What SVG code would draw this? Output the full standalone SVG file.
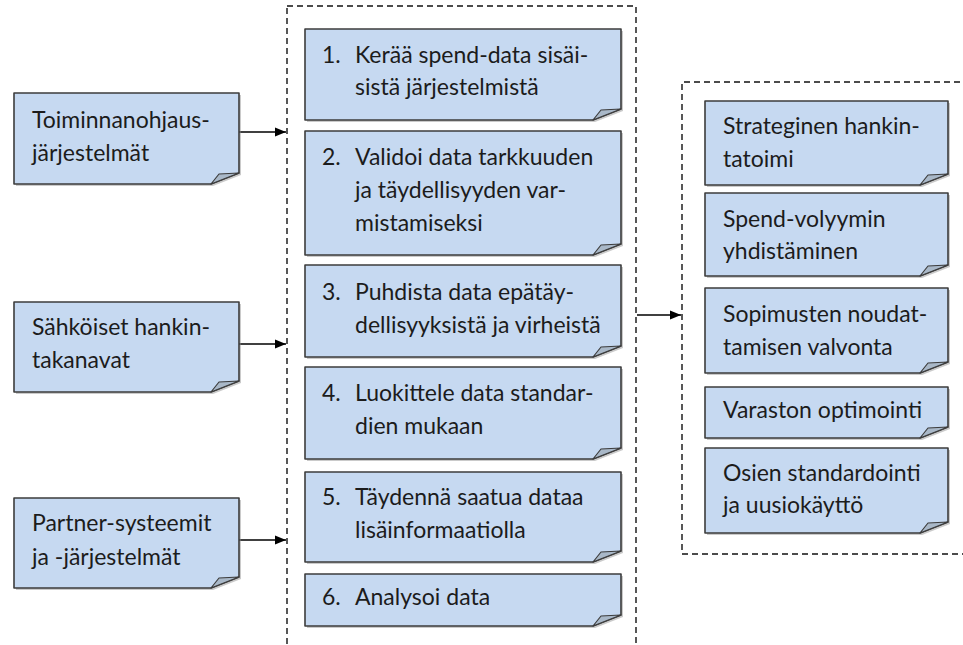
<svg xmlns="http://www.w3.org/2000/svg" xmlns:xlink="http://www.w3.org/1999/xlink" width="963" height="645" viewBox="0 0 963 645">
<style>
.t{font-family:Lato,"Liberation Sans",sans-serif;font-size:23px;fill:#1c1c1c}
.box{fill:#c6d9f1;stroke:#3c3c3c;stroke-width:1.6;stroke-linejoin:round}
.sh{fill:#8a8a8a;opacity:.45}
.flap{fill:#a9b8c8;stroke:#3c3c3c;stroke-width:1.2;stroke-linejoin:round}
.dash{fill:none;stroke:#111;stroke-width:1.4;stroke-dasharray:6 4}
.con{stroke:#000;stroke-width:1.6;fill:none}
</style>
<defs>
<marker id="ah" markerUnits="userSpaceOnUse" markerWidth="12" markerHeight="12" refX="11" refY="6" orient="auto">
<path d="M0,1.5 L11,6 L0,10.5 Z" fill="#000"/>
</marker>
</defs>

<rect class="dash" x="287" y="6" width="349" height="660"/>
<path class="dash" d="M970,82 H682 V554 H970"/>

<g id="connectors">
<line class="con" x1="239" y1="132" x2="286" y2="132" marker-end="url(#ah)"/>
<line class="con" x1="239" y1="344" x2="286" y2="344" marker-end="url(#ah)"/>
<line class="con" x1="239" y1="540" x2="286" y2="540" marker-end="url(#ah)"/>
<line class="con" x1="637" y1="315" x2="681" y2="315" marker-end="url(#ah)"/>
</g>

<!-- left sources -->
<g id="src1">
<path class="sh" d="M16,95 H241 V175 L213,186 H16 Z"/>
<path class="box" d="M14,93 H239 V173 L211,184 H14 Z"/>
<path class="flap" d="M211,184 L219,174 L239,173 Z"/>
<text class="t" x="32" y="128">Toiminnanohjaus-</text>
<text class="t" x="32" y="161">järjestelmät</text>
</g>
<g id="src2">
<path class="sh" d="M16,304 H241 V383 L213,394 H16 Z"/>
<path class="box" d="M14,302 H239 V381 L211,392 H14 Z"/>
<path class="flap" d="M211,392 L219,382 L239,381 Z"/>
<text class="t" x="32" y="335">Sähköiset hankin-</text>
<text class="t" x="32" y="368">takanavat</text>
</g>
<g id="src3">
<path class="sh" d="M16,500 H241 V579 L213,590 H16 Z"/>
<path class="box" d="M14,498 H239 V577 L211,588 H14 Z"/>
<path class="flap" d="M211,588 L219,578 L239,577 Z"/>
<text class="t" x="32" y="531">Partner-systeemit</text>
<text class="t" x="32" y="565">ja -järjestelmät</text>
</g>

<!-- middle steps -->
<g id="step1">
<path class="sh" d="M307,31 H623 V111 L595,122 H307 Z"/>
<path class="box" d="M305,29 H621 V109 L593,120 H305 Z"/>
<path class="flap" d="M593,120 L601,110 L621,109 Z"/>
<text class="t" x="322" y="63">1.</text><text class="t" x="355" y="63">Kerää spend-data sisäi-</text>
<text class="t" x="355" y="95">sistä järjestelmistä</text>
</g>
<g id="step2">
<path class="sh" d="M307,133 H623 V246 L595,257 H307 Z"/>
<path class="box" d="M305,131 H621 V244 L593,255 H305 Z"/>
<path class="flap" d="M593,255 L601,245 L621,244 Z"/>
<text class="t" x="322" y="165">2.</text><text class="t" x="355" y="165">Validoi data tarkkuuden</text>
<text class="t" x="355" y="198">ja täydellisyyden var-</text>
<text class="t" x="355" y="231">mistamiseksi</text>
</g>
<g id="step3">
<path class="sh" d="M307,267 H623 V348 L595,359 H307 Z"/>
<path class="box" d="M305,265 H621 V346 L593,357 H305 Z"/>
<path class="flap" d="M593,357 L601,347 L621,346 Z"/>
<text class="t" x="322" y="300">3.</text><text class="t" x="355" y="300">Puhdista data epätäy-</text>
<text class="t" x="355" y="333">dellisyyksistä ja virheistä</text>
</g>
<g id="step4">
<path class="sh" d="M307,369 H623 V450 L595,461 H307 Z"/>
<path class="box" d="M305,367 H621 V448 L593,459 H305 Z"/>
<path class="flap" d="M593,459 L601,449 L621,448 Z"/>
<text class="t" x="322" y="401">4.</text><text class="t" x="355" y="401">Luokittele data standar-</text>
<text class="t" x="355" y="434">dien mukaan</text>
</g>
<g id="step5">
<path class="sh" d="M307,474 H623 V553 L595,564 H307 Z"/>
<path class="box" d="M305,472 H621 V551 L593,562 H305 Z"/>
<path class="flap" d="M593,562 L601,552 L621,551 Z"/>
<text class="t" x="322" y="505">5.</text><text class="t" x="355" y="505">Täydennä saatua dataa</text>
<text class="t" x="355" y="538">lisäinformaatiolla</text>
</g>
<g id="step6">
<path class="sh" d="M307,576 H623 V617 L595,628 H307 Z"/>
<path class="box" d="M305,574 H621 V615 L593,626 H305 Z"/>
<path class="flap" d="M593,626 L601,616 L621,615 Z"/>
<text class="t" x="322" y="605">6.</text><text class="t" x="355" y="605">Analysoi data</text>
</g>

<!-- right outcomes -->
<g id="out1">
<path class="sh" d="M707,103 H950 V176 L922,187 H707 Z"/>
<path class="box" d="M705,101 H948 V174 L920,185 H705 Z"/>
<path class="flap" d="M920,185 L928,175 L948,174 Z"/>
<text class="t" x="723" y="134">Strateginen hankin-</text>
<text class="t" x="723" y="167">tatoimi</text>
</g>
<g id="out2">
<path class="sh" d="M707,195 H950 V267 L922,278 H707 Z"/>
<path class="box" d="M705,193 H948 V265 L920,276 H705 Z"/>
<path class="flap" d="M920,276 L928,266 L948,265 Z"/>
<text class="t" x="723" y="227">Spend-volyymin</text>
<text class="t" x="723" y="259">yhdistäminen</text>
</g>
<g id="out3">
<path class="sh" d="M707,290 H950 V364 L922,375 H707 Z"/>
<path class="box" d="M705,288 H948 V362 L920,373 H705 Z"/>
<path class="flap" d="M920,373 L928,363 L948,362 Z"/>
<text class="t" x="723" y="322">Sopimusten noudat-</text>
<text class="t" x="723" y="355">tamisen valvonta</text>
</g>
<g id="out4">
<path class="sh" d="M707,389 H950 V429 L922,440 H707 Z"/>
<path class="box" d="M705,387 H948 V427 L920,438 H705 Z"/>
<path class="flap" d="M920,438 L928,428 L948,427 Z"/>
<text class="t" x="723" y="418">Varaston optimointi</text>
</g>
<g id="out5">
<path class="sh" d="M707,450 H950 V524 L922,535 H707 Z"/>
<path class="box" d="M705,448 H948 V522 L920,533 H705 Z"/>
<path class="flap" d="M920,533 L928,523 L948,522 Z"/>
<text class="t" x="723" y="481">Osien standardointi</text>
<text class="t" x="723" y="513">ja uusiokäyttö</text>
</g>
</svg>
